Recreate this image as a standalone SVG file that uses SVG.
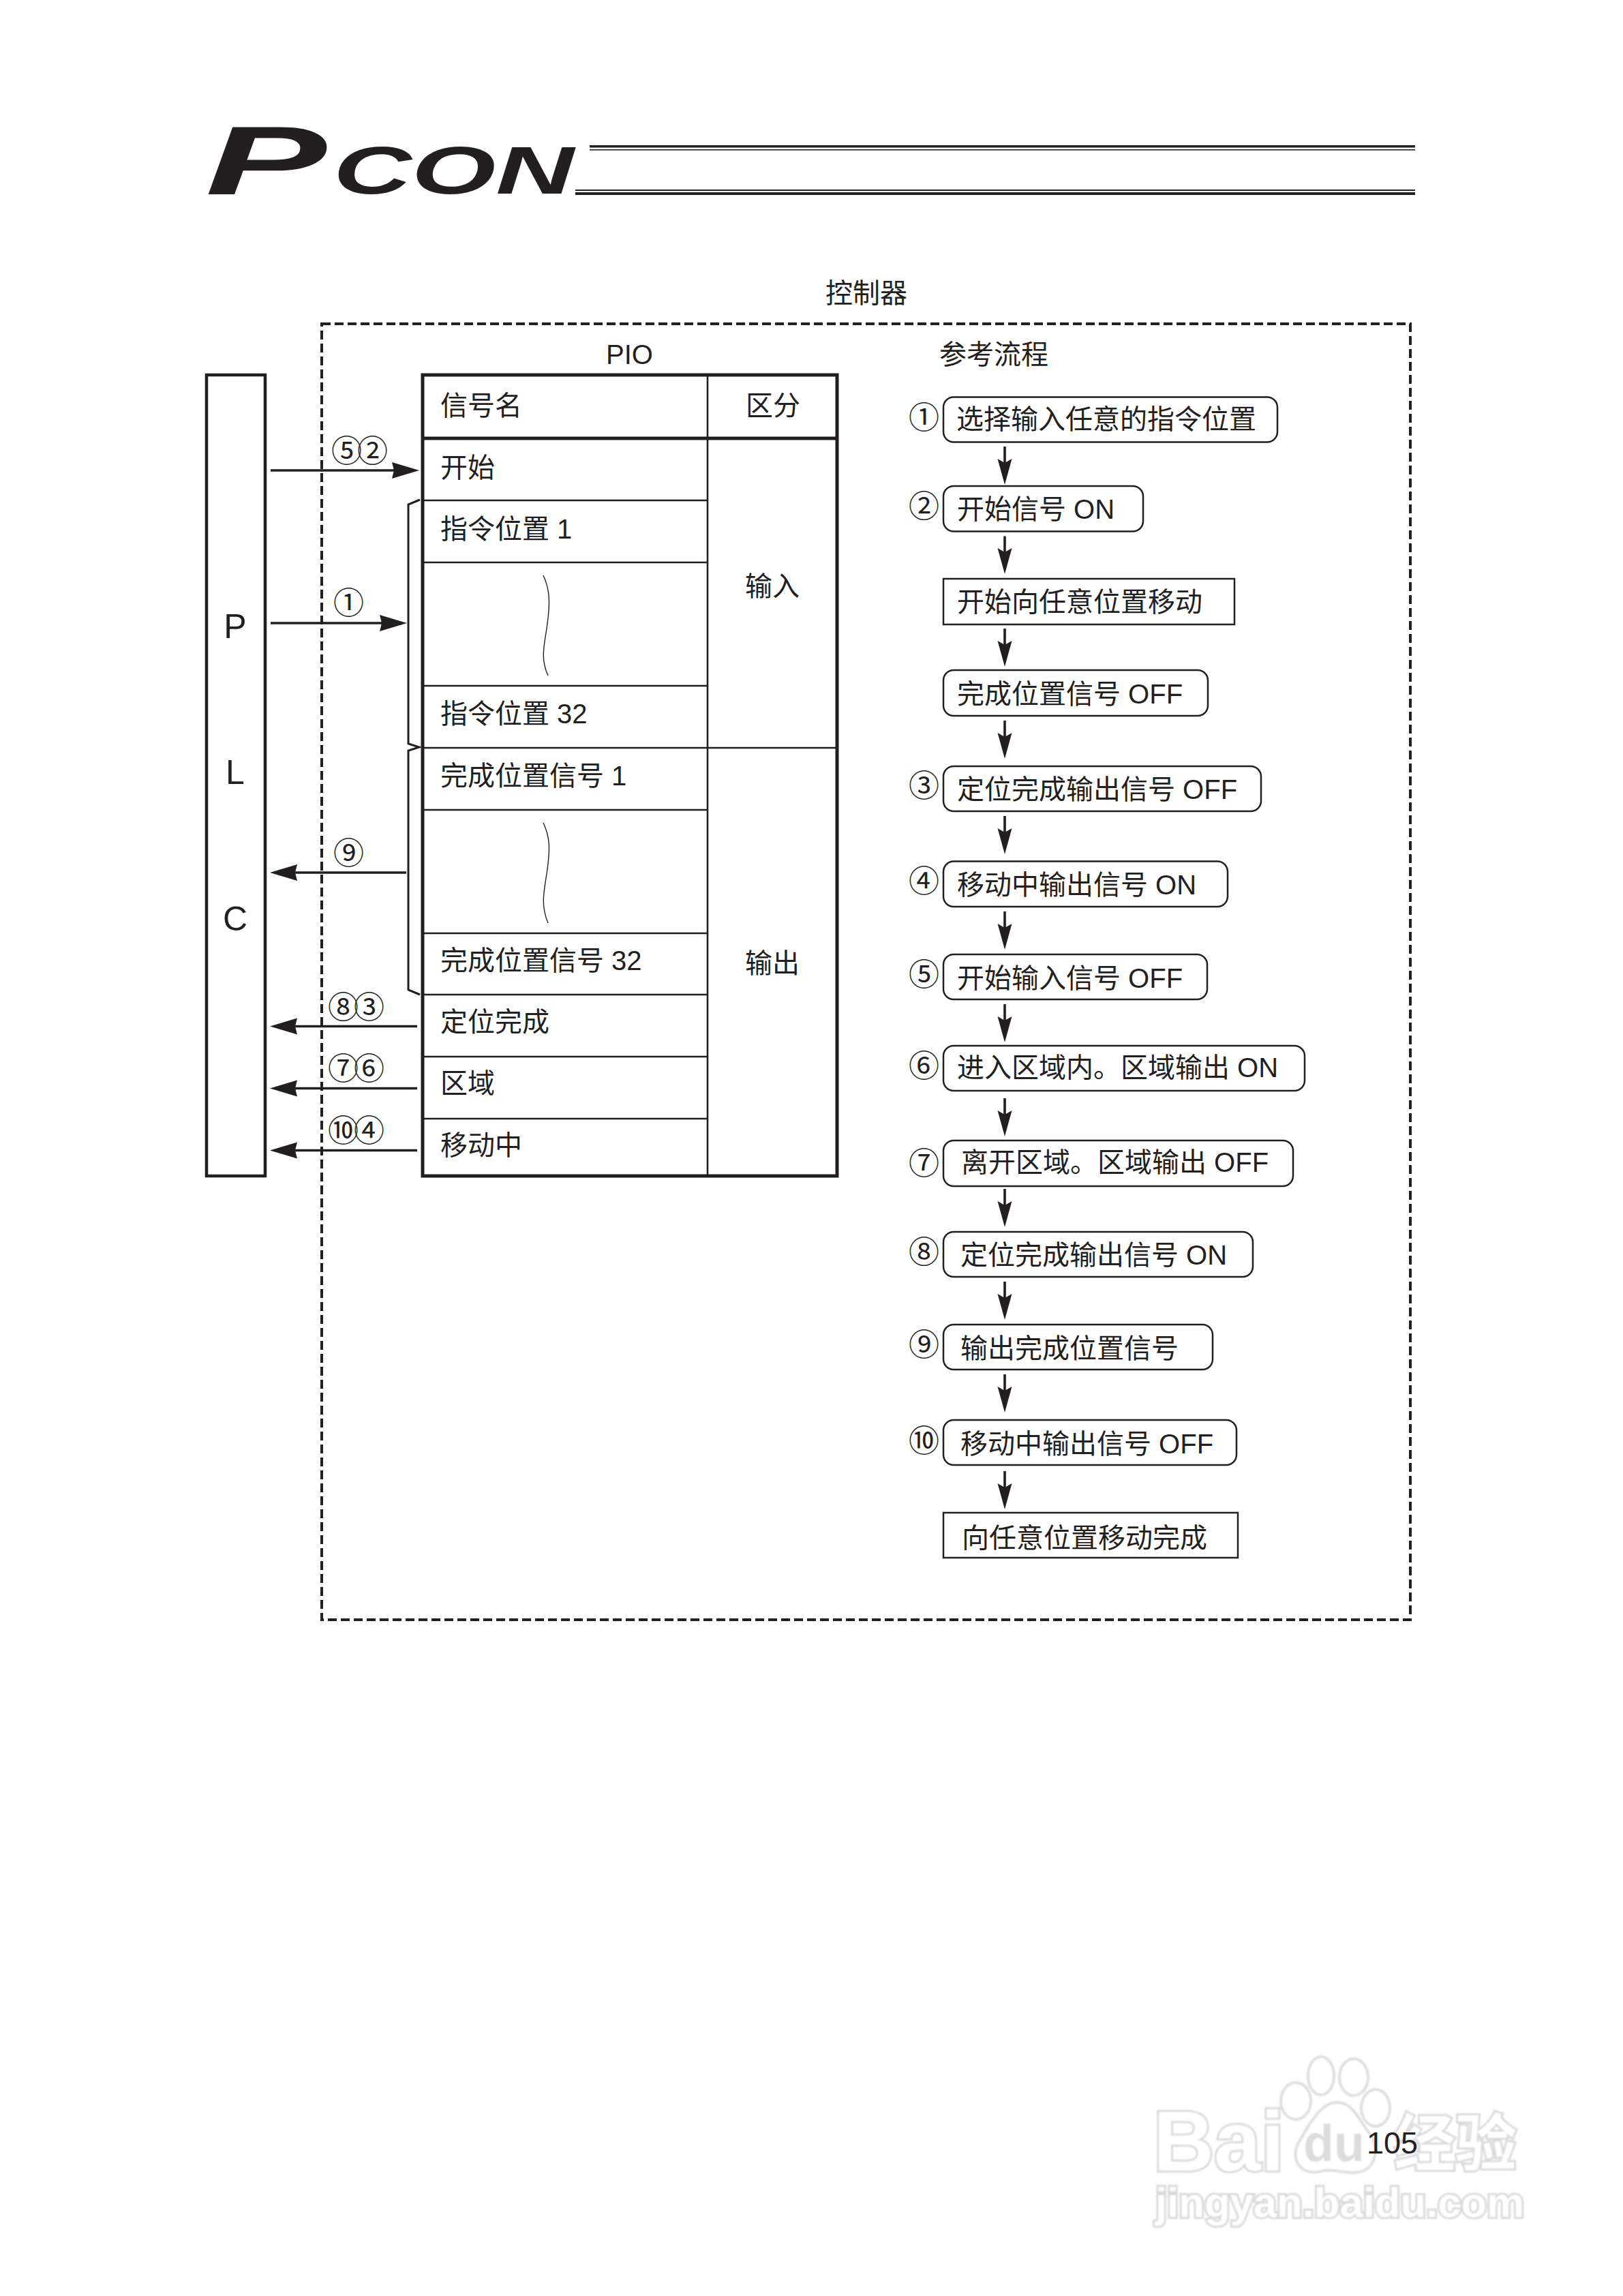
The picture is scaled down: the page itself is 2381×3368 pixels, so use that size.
<svg xmlns="http://www.w3.org/2000/svg" width="2381" height="3368" viewBox="0 0 2381 3368">
<style>
text{fill:#231f20;font-family:"Liberation Sans","Noto Sans CJK SC",sans-serif}
.t{font-size:40px}
.m{font-size:40px;text-anchor:middle}
.c{font-size:45px;font-family:"Noto Sans CJK SC",sans-serif;letter-spacing:-7px}
.plc{font-size:50px;text-anchor:middle}
.box{fill:#fff;stroke:#231f20;stroke-width:2.5}
.th{fill:none;stroke:#231f20;stroke-width:5}
.in{fill:none;stroke:#231f20;stroke-width:2.6}
.wave{fill:none;stroke:#231f20;stroke-width:1.4}
.h{fill:none;stroke:#231f20;stroke-width:3.6;marker-end:url(#ah)}
.v{fill:none;stroke:#231f20;stroke-width:3.6;marker-end:url(#av)}
.wm{fill:#fff;stroke:#d9d9d9;stroke-width:6;paint-order:stroke;font-weight:bold}
.wp{fill:#fff;stroke:#dedede;stroke-width:4}
</style>
<defs>
<marker id="ah" markerUnits="userSpaceOnUse" markerWidth="42" markerHeight="26" refX="19" refY="13" orient="auto"><path d="M0 1L40 13L0 25L3 13Z" fill="#231f20"/></marker>
<marker id="av" markerUnits="userSpaceOnUse" markerWidth="40" markerHeight="24" refX="19" refY="12" orient="auto"><path d="M0 1.5L38 12L0 22.5L6 12Z" fill="#231f20"/></marker>
<filter id="soft" x="-5%" y="-5%" width="110%" height="110%"><feGaussianBlur stdDeviation="1.2"/></filter>
</defs>
<rect width="2381" height="3368" fill="#fff"/>

<g id="watermark" filter="url(#soft)">
<ellipse class="wp" cx="1938" cy="3045" rx="19" ry="28"/>
<ellipse class="wp" cx="1986" cy="3047" rx="21" ry="27"/>
<ellipse class="wp" cx="1901" cy="3082" rx="22" ry="27"/>
<ellipse class="wp" cx="2018" cy="3092" rx="21" ry="27"/>
<path class="wp" d="M1961 3084C1985 3084 1992 3108 2008 3128C2024 3148 2022 3187 1985 3187C1968 3187 1950 3180 1935 3186C1905 3190 1893 3165 1905 3143C1915 3127 1935 3084 1961 3084Z"/>
<text class="wm" x="1692" y="3184" font-size="124" textLength="192" lengthAdjust="spacingAndGlyphs">Bai</text>
<text class="wm" x="1912" y="3170" font-size="76" textLength="90" lengthAdjust="spacingAndGlyphs" style="fill:#dcdcdc;stroke:none">du</text>
<text class="wm" x="2045" y="3176" font-size="90" style="font-family:'Noto Sans CJK SC',sans-serif">经验</text>
<text class="wm" x="1695" y="3252" font-size="62" textLength="541" lengthAdjust="spacingAndGlyphs">jingyan.baidu.com</text>
</g>

<g id="logo">
<text x="301" y="285" font-size="143" font-weight="bold" font-style="italic" textLength="178" lengthAdjust="spacingAndGlyphs">P</text>
<text x="489" y="284" font-size="98" font-weight="bold" font-style="italic" textLength="353" lengthAdjust="spacingAndGlyphs">CON</text>
<rect x="865" y="213" width="1211" height="3.5" fill="#231f20"/>
<rect x="865" y="219" width="1211" height="1.6" fill="#231f20"/>
<rect x="844" y="278" width="1232" height="2" fill="#231f20"/>
<rect x="844" y="282" width="1232" height="4" fill="#231f20"/>
</g>

<g id="controller">
<text class="t" x="1211" y="444">控制器</text>
<rect x="472" y="475" width="1597" height="1901" fill="none" stroke="#231f20" stroke-width="4" stroke-dasharray="13 6"/>
<text class="t" x="889" y="534">PIO</text>
<text class="t" x="1378" y="534">参考流程</text>
</g>

<g id="plc">
<rect class="th" x="303" y="550" width="86" height="1175" style="stroke-width:4.5"/>
<text class="plc" x="345" y="936">P</text>
<text class="plc" x="345" y="1150">L</text>
<text class="plc" x="345" y="1365">C</text>
</g>

<g id="pio-table">
<path class="in" d="M620 734H1038M620 825H1038M620 1006H1038M620 1097H1228M620 1188H1038M620 1369H1038M620 1459H1038M620 1550H1038M620 1641H1038M1038 550V1725"/>
<path class="th" d="M620 643H1228"/>
<rect class="th" x="620" y="550" width="608" height="1175"/>
<path class="wave" d="M797 844C807 865 807 885 803 915C799 945 792 965 804 991"/>
<path class="wave" d="M797 1207C807 1228 807 1245 803 1275C799 1305 792 1325 804 1354"/>
<text class="t" x="646" y="609">信号名</text>
<text class="m" x="1134" y="609">区分</text>
<text class="t" x="646" y="700">开始</text>
<text class="t" x="646" y="790">指令位置 1</text>
<text class="t" x="646" y="1061">指令位置 32</text>
<text class="t" x="646" y="1152">完成位置信号 1</text>
<text class="t" x="646" y="1423">完成位置信号 32</text>
<text class="t" x="646" y="1513">定位完成</text>
<text class="t" x="646" y="1603">区域</text>
<text class="t" x="646" y="1694">移动中</text>
<text class="m" x="1133" y="874">输入</text>
<text class="m" x="1133" y="1427">输出</text>
</g>

<g id="labels-signal">
<text class="c" x="486" y="678">⑤②</text>
<text class="c" x="489" y="901">①</text>
<text class="c" x="489" y="1268">⑨</text>
<text class="c" x="481" y="1494">⑧③</text>
<text class="c" x="481" y="1584">⑦⑥</text>
<text class="c" x="481" y="1675">⑩④</text>
</g>

<g id="connectors">
<path class="in" style="stroke-width:3" d="M616 733L599 740V1091L615 1096L599 1101V1452L616 1459"/>
<path class="h" d="M397 690H594"/>
<path class="h" d="M397 914H576"/>
<path class="h" d="M596 1280H417"/>
<path class="h" d="M612 1505.500H417"/>
<path class="h" d="M612 1596.500H417"/>
<path class="h" d="M612 1687.500H417"/>
<path class="v" d="M1474 655V692"/>
<path class="v" d="M1474 786.500V823"/>
<path class="v" d="M1474 922V959"/>
<path class="v" d="M1474 1057V1094"/>
<path class="v" d="M1474 1197V1234"/>
<path class="v" d="M1474 1337V1374"/>
<path class="v" d="M1474 1473V1510"/>
<path class="v" d="M1474 1611V1648"/>
<path class="v" d="M1474 1744V1781"/>
<path class="v" d="M1474 1880V1917"/>
<path class="v" d="M1474 2016V2053"/>
<path class="v" d="M1474 2158V2195"/>
</g>

<g id="step1"><text class="c" x="1333" y="629">①</text><rect class="box" x="1384" y="582.500" width="490" height="66" rx="15"/><text class="t" x="1403" y="629">选择输入任意的指令位置</text></g>
<g id="step2"><text class="c" x="1333" y="759">②</text><rect class="box" x="1384" y="713" width="293" height="66.500" rx="15"/><text class="t" x="1404" y="761">开始信号 ON</text></g>
<g id="step2b"><rect class="box" x="1384" y="849" width="427" height="67"/><text class="t" x="1404" y="897">开始向任意位置移动</text></g>
<g id="step2c"><rect class="box" x="1384" y="983" width="388" height="67" rx="15"/><text class="t" x="1404" y="1032">完成位置信号 OFF</text></g>
<g id="step3"><text class="c" x="1333" y="1169">③</text><rect class="box" x="1384" y="1124" width="466" height="66" rx="15"/><text class="t" x="1404" y="1172">定位完成输出信号 OFF</text></g>
<g id="step4"><text class="c" x="1333" y="1309">④</text><rect class="box" x="1384" y="1263.500" width="417" height="66.500" rx="15"/><text class="t" x="1404" y="1312">移动中输出信号 ON</text></g>
<g id="step5"><text class="c" x="1333" y="1446">⑤</text><rect class="box" x="1384" y="1400" width="387" height="66" rx="15"/><text class="t" x="1404" y="1449">开始输入信号 OFF</text></g>
<g id="step6"><text class="c" x="1333" y="1580">⑥</text><rect class="box" x="1384" y="1534" width="530" height="66" rx="15"/><text class="t" x="1404" y="1580">进入区域内。区域输出 ON</text></g>
<g id="step7"><text class="c" x="1333" y="1723">⑦</text><rect class="box" x="1384" y="1673" width="513" height="67" rx="15"/><text class="t" x="1410" y="1719">离开区域。区域输出 OFF</text></g>
<g id="step8"><text class="c" x="1333" y="1853">⑧</text><rect class="box" x="1384" y="1807" width="454" height="66" rx="15"/><text class="t" x="1409" y="1855">定位完成输出信号 ON</text></g>
<g id="step9"><text class="c" x="1333" y="1989">⑨</text><rect class="box" x="1384" y="1943" width="395" height="66" rx="15"/><text class="t" x="1409" y="1992">输出完成位置信号</text></g>
<g id="step10"><text class="c" x="1333" y="2130">⑩</text><rect class="box" x="1384" y="2083" width="430" height="66" rx="15"/><text class="t" x="1409" y="2132">移动中输出信号 OFF</text></g>
<g id="step-end"><rect class="box" x="1384" y="2219" width="432" height="66"/><text class="t" x="1411" y="2270">向任意位置移动完成</text></g>

<text id="page" x="2005" y="3159" font-size="45">105</text>
</svg>
